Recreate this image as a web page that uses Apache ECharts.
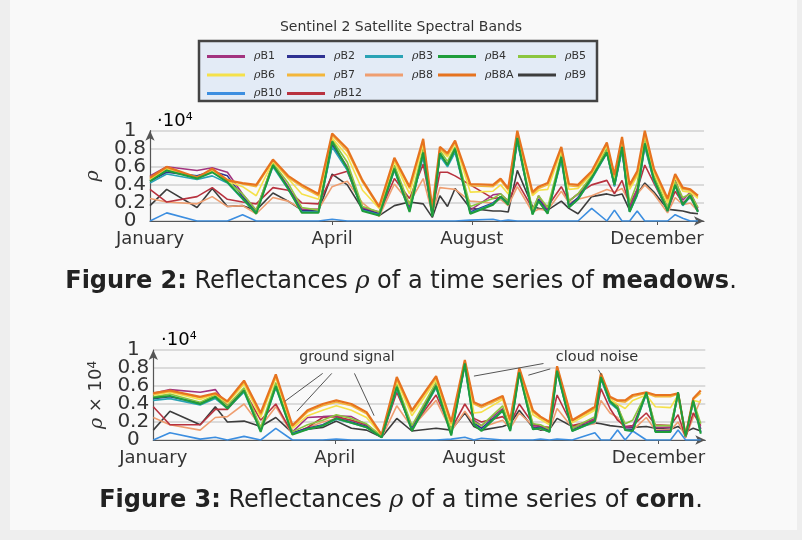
<!DOCTYPE html>
<html>
<head>
<meta charset="utf-8">
<script src="https://cdn.jsdelivr.net/npm/echarts@6/dist/echarts.min.js"></script>
<style>html,body{margin:0;padding:0;background:#eeeeee;}#c{width:802px;height:540px;}</style>
</head>
<body>
<div id="c"></div>
<script>
// ---------- tick labels ----------
const xTickDays = [0, 120, 212, 334];
const xTickNames = ['January', 'April', 'August', 'December'];
const yTicksA = [0, 0.4, 0.8];
const yTicksB = [0.2, 0.6, 1];
const bandNames = ['B1','B2','B3','B4','B5','B6','B7','B8','B8A','B9','B10','B12'];

// ---------- meadows (Figure 2), values ×10^4 ----------
const meadowDays = [0,11,31,41,51,61,70,81,91,100,111,120,130,140,151,161,171,180,186,191,196,201,211,226,231,236,242,252,256,262,271,276,282,291,301,306,311,316,321,326,332,341,346,351,356,361];
const meadowB8A = [.48,.60,.48,.58,.45,.42,.40,.68,.50,.40,.30,.97,.80,.45,.16,.70,.38,.91,.14,.82,.75,.89,.41,.40,.47,.36,1.0,.32,.38,.42,.82,.41,.40,.55,.87,.51,.93,.40,.55,1.0,.58,.25,.52,.37,.35,.28];
const meadowB7  = [.47,.59,.47,.57,.46,.41,.38,.67,.48,.38,.28,.95,.77,.43,.15,.68,.36,.89,.12,.80,.73,.87,.39,.38,.45,.34,.98,.30,.36,.40,.80,.39,.38,.53,.85,.49,.91,.38,.52,.98,.56,.23,.50,.35,.34,.27];
const meadowB6  = [.46,.58,.48,.56,.44,.38,.28,.66,.47,.30,.24,.92,.72,.34,.14,.66,.30,.86,.10,.80,.71,.86,.32,.33,.40,.30,.96,.28,.34,.35,.78,.35,.36,.52,.84,.48,.90,.35,.50,.96,.54,.20,.48,.33,.32,.25];
const meadowB5  = [.45,.57,.49,.55,.44,.30,.12,.64,.42,.15,.12,.90,.65,.16,.10,.62,.18,.80,.07,.78,.66,.82,.16,.25,.30,.22,.94,.12,.28,.15,.74,.22,.30,.50,.80,.45,.86,.20,.42,.92,.50,.15,.44,.26,.30,.15];
const meadowB4  = [.44,.56,.47,.54,.43,.25,.08,.62,.36,.09,.09,.88,.58,.11,.06,.58,.10,.76,.05,.75,.62,.80,.08,.18,.27,.18,.92,.07,.22,.08,.71,.15,.24,.48,.76,.40,.82,.10,.30,.86,.46,.11,.40,.18,.28,.10];
const meadowB3  = [.42,.52,.46,.50,.42,.24,.09,.60,.35,.10,.10,.82,.56,.12,.07,.56,.11,.72,.06,.72,.60,.76,.09,.19,.26,.19,.88,.08,.22,.09,.67,.15,.24,.46,.75,.38,.78,.10,.28,.82,.44,.11,.39,.17,.27,.10];
const meadowB2  = [.44,.54,.50,.55,.50,.27,.10,.62,.37,.11,.11,.84,.57,.13,.08,.57,.12,.74,.07,.73,.62,.78,.10,.20,.27,.20,.90,.09,.24,.10,.69,.17,.26,.47,.76,.39,.80,.11,.30,.84,.45,.12,.40,.18,.29,.11];
const meadowB1  = [.50,.60,.56,.59,.54,.30,.12,.64,.38,.13,.13,.86,.60,.15,.10,.58,.15,.74,.08,.74,.63,.78,.12,.29,.30,.22,.90,.10,.28,.12,.70,.22,.30,.48,.78,.42,.80,.15,.35,.85,.48,.15,.46,.23,.32,.14];
const meadowB12 = [.35,.21,.27,.37,.24,.21,.19,.37,.34,.20,.19,.50,.55,.14,.08,.47,.25,.63,.10,.54,.54,.50,.40,.25,.26,.22,.43,.14,.23,.16,.38,.22,.30,.40,.45,.30,.45,.18,.35,.62,.42,.12,.33,.20,.26,.12];
const meadowB8  = [.25,.21,.19,.27,.16,.17,.08,.26,.22,.13,.13,.38,.44,.20,.05,.41,.20,.47,.08,.37,.36,.35,.22,.20,.24,.17,.38,.10,.13,.12,.33,.20,.24,.28,.35,.32,.36,.20,.30,.40,.30,.09,.26,.18,.20,.11];
const meadowB9  = [.17,.35,.15,.36,.16,.17,.12,.31,.22,.12,.11,.52,.40,.13,.06,.17,.21,.19,.04,.28,.16,.36,.14,.11,.11,.10,.56,.16,.14,.12,.22,.14,.08,.27,.30,.28,.30,.12,.30,.42,.32,.13,.12,.11,.09,.08];
const meadowB10 = [0,.09,0,0,0,.07,0,0,0,0,0,.02,0,0,0,0,0,0,0,0,0,0,.01,.02,0,.01,0,0,0,0,0,0,0,.14,0,.12,0,0,.11,0,0,0,.07,.03,0,0];

// ---------- corn (Figure 3), values ×10^4 ----------
const cornDays = [0,11,31,41,49,60,71,81,92,102,112,121,131,141,151,161,171,187,197,206,212,217,231,236,242,251,256,262,267,277,292,296,302,307,312,317,326,332,342,347,352,357,362];
const cornB8A = [.52,.55,.48,.52,.43,.66,.30,.73,.16,.33,.40,.44,.40,.31,.06,.70,.33,.71,.20,.89,.42,.38,.49,.22,.80,.33,.26,.20,.82,.22,.37,.74,.48,.44,.44,.50,.53,.50,.50,.52,.05,.46,.55];
const cornB7  = [.51,.54,.47,.51,.42,.64,.28,.71,.15,.31,.38,.42,.38,.29,.05,.68,.31,.69,.18,.88,.40,.36,.47,.21,.79,.31,.25,.19,.81,.21,.35,.73,.47,.43,.42,.48,.52,.48,.48,.51,.05,.45,.52];
const cornB6  = [.50,.53,.45,.51,.41,.62,.25,.69,.13,.27,.33,.38,.33,.25,.05,.66,.27,.67,.16,.87,.30,.31,.45,.19,.78,.28,.23,.17,.80,.19,.33,.72,.45,.40,.35,.44,.50,.37,.36,.50,.04,.44,.42];
const cornB5  = [.48,.51,.42,.50,.38,.58,.14,.64,.09,.17,.22,.28,.24,.18,.04,.62,.16,.64,.10,.86,.20,.16,.38,.13,.76,.18,.17,.12,.79,.13,.26,.71,.44,.37,.18,.22,.52,.16,.16,.52,.04,.44,.18];
const cornB4  = [.47,.49,.40,.48,.35,.55,.09,.60,.06,.12,.16,.24,.19,.14,.03,.59,.10,.60,.05,.85,.17,.10,.33,.10,.75,.12,.13,.09,.77,.10,.21,.70,.43,.35,.11,.10,.53,.09,.09,.53,.04,.44,.07];
const cornB3  = [.44,.46,.39,.46,.35,.53,.10,.58,.07,.12,.16,.23,.19,.14,.03,.57,.11,.58,.06,.82,.17,.11,.32,.10,.74,.12,.13,.09,.75,.10,.20,.68,.41,.34,.11,.10,.51,.09,.09,.51,.04,.42,.08];
const cornB2  = [.46,.48,.41,.48,.37,.55,.11,.60,.08,.13,.17,.24,.20,.15,.03,.58,.12,.59,.07,.84,.19,.13,.33,.11,.76,.13,.14,.10,.77,.11,.21,.69,.42,.35,.12,.12,.52,.10,.10,.52,.04,.43,.09];
const cornB1  = [.52,.56,.53,.56,.38,.56,.12,.60,.09,.25,.26,.27,.26,.17,.04,.59,.14,.62,.08,.84,.22,.16,.35,.13,.79,.16,.15,.11,.79,.13,.24,.70,.45,.38,.14,.15,.53,.14,.14,.53,.05,.44,.12];
const cornB12 = [.37,.17,.17,.34,.34,.55,.22,.40,.07,.14,.25,.26,.22,.17,.03,.53,.14,.50,.12,.40,.24,.20,.26,.18,.40,.18,.15,.14,.50,.16,.22,.57,.35,.22,.15,.16,.30,.17,.16,.28,.03,.30,.16];
const cornB8  = [.25,.17,.11,.25,.26,.40,.15,.37,.06,.14,.20,.24,.22,.16,.03,.38,.14,.44,.10,.32,.18,.14,.22,.13,.30,.16,.12,.11,.35,.14,.18,.44,.30,.25,.12,.11,.25,.11,.11,.20,.03,.25,.45];
const cornB9  = [.11,.32,.17,.37,.20,.21,.15,.25,.08,.12,.14,.21,.13,.11,.03,.24,.10,.13,.11,.30,.15,.11,.15,.18,.33,.14,.11,.12,.24,.15,.19,.18,.16,.15,.14,.14,.15,.13,.12,.15,.09,.13,.10];
const cornB10 = [0,.08,.01,.03,0,.04,0,.13,0,0,0,.01,0,0,0,0,0,0,.01,.03,0,.02,0,0,0,0,.01,0,.01,0,.08,0,0,.11,0,.10,0,0,0,.11,0,0,0];

// annotation anchor points (day, value) in the corn chart
const groundSignalLines = [[[87,0.43],[112,0.74]], [[95,0.32],[118,0.74]], [[146,0.27],[133,0.74]]];
const cloudNoiseLines = [[[212,0.71],[258,0.85]], [[248,0.72],[262.5,0.79]], [[296.4,0.72],[294.3,0.78]]];

// ---------- build ----------
const bandColors = {B1:'#a2337f',B2:'#2e3192',B3:'#2aa3b5',B4:'#1f9d3b',B5:'#8cc63f',B6:'#f5e14a',B7:'#f3b63a',B8:'#ef9e70',B8A:'#e6731f',B9:'#3d3d3d',B10:'#3c8ee0',B12:'#b8323f'};
const bandWidths = {B4: 2, B8A: 2.2};
const meadowData = {B1:meadowB1,B2:meadowB2,B3:meadowB3,B4:meadowB4,B5:meadowB5,B6:meadowB6,B7:meadowB7,B8:meadowB8,B8A:meadowB8A,B9:meadowB9,B10:meadowB10,B12:meadowB12};
const cornData = {B1:cornB1,B2:cornB2,B3:cornB3,B4:cornB4,B5:cornB5,B6:cornB6,B7:cornB7,B8:cornB8,B8A:cornB8A,B9:cornB9,B10:cornB10,B12:cornB12};
const drawOrder = ['B10','B9','B8','B12','B1','B2','B3','B5','B6','B7','B8A','B4'];

const FONT = 'DejaVu Sans';
const series = [];
[[meadowDays, meadowData, 0], [cornDays, cornData, 1]].forEach(([days, data, gi]) => {
  drawOrder.forEach(b => {
    series.push({
      type: 'line', name: b, xAxisIndex: gi, yAxisIndex: gi,
      color: bandColors[b], symbol: 'none', silent: true,
      lineStyle: {width: bandWidths[b] || 1.6, color: bandColors[b]},
      data: days.map((d, i) => [d, data[b][i]])
    });
  });
});
const annot = {color: '#555', width: 1, type: 'solid'};
series.push({
  type: 'line', name: 'annotations', xAxisIndex: 1, yAxisIndex: 1, data: [], symbol: 'none',
  markLine: {silent: true, symbol: 'none', animation: false, label: {show: false}, lineStyle: annot,
    data: groundSignalLines.concat(cloudNoiseLines).map(l => [{coord: l[0]}, {coord: l[1]}])}
});

function xAxis(gi) {
  return {
    type: 'value', gridIndex: gi, min: 0, max: 365,
    axisLine: {show: true, onZero: false, symbol: ['none', 'arrow'], symbolSize: [7, 10], lineStyle: {color: '#555', width: 1.2}},
    axisTick: {show: true, customValues: xTickDays.slice(1), length: 4, lineStyle: {color: '#555'}},
    axisLabel: {customValues: xTickDays, formatter: v => { const k = xTickDays.indexOf(v); return k >= 0 ? xTickNames[k] : ''; },
      fontFamily: FONT, fontSize: 18, color: '#333', margin: 9, showMinLabel: true, showMaxLabel: true},
    splitLine: {show: false}
  };
}
const yLabelStyle = {fontFamily: FONT, fontSize: 20, color: '#333', align: 'center', margin: 20,
  showMinLabel: true, showMaxLabel: true, hideOverlap: false};
function yAxis(gi, name) {
  return {
    type: 'value', gridIndex: gi, min: 0, max: 1, interval: 0.2,
    axisLine: {show: true, symbol: ['none', 'arrow'], symbolSize: [7, 10], lineStyle: {color: '#555', width: 1.2}},
    axisTick: {show: false},
    axisLabel: Object.assign({customValues: yTicksA}, yLabelStyle),
    splitLine: {show: true, lineStyle: {color: '#d0d0d0', width: 1.5}},
    name: name, nameLocation: 'middle', nameGap: 47, nameRotate: 90,
    nameTextStyle: {fontFamily: FONT, fontSize: 18, color: '#333',
      rich: {i: {fontFamily: 'DejaVu Serif', fontStyle: 'italic', fontSize: 19, color: '#333'},
             s: {fontFamily: FONT, fontSize: 12, color: '#333', verticalAlign: 'top'}}}
  };
}
function yAxisExtra(gi) {
  return {
    type: 'value', gridIndex: gi, min: 0, max: 1, interval: 0.2, position: 'left', offset: 0,
    axisLine: {show: false}, axisTick: {show: false}, splitLine: {show: false},
    axisLabel: Object.assign({customValues: yTicksB}, yLabelStyle)
  };
}

const legendCols = [['B1','B6','B10'], ['B2','B7','B12'], ['B3','B8'], ['B4','B8A'], ['B5','B9']];
const legendLeft = [207, 287, 365, 438, 518];
const legends = legendCols.map((cols, k) => ({
  data: cols, orient: 'vertical', left: legendLeft[k], top: 47, padding: 0,
  itemGap: 3.5, itemWidth: 38, itemHeight: 3, icon: 'rect', selectedMode: false,
  formatter: n => '{r|ρ}{s|' + n + '}',
  textStyle: {color: '#333', rich: {
    r: {fontFamily: 'DejaVu Serif', fontStyle: 'italic', fontSize: 11, lineHeight: 11, verticalAlign: 'top', padding: [0, 0, 0, 4], color: '#333'},
    s: {fontFamily: FONT, fontSize: 11, lineHeight: 11, padding: [4, 0, 0, 0], verticalAlign: 'bottom', color: '#333'}}}
}));

const capRich = {b: {fontFamily: FONT, fontWeight: 'bold', fontSize: 24, color: '#222'},
                 i: {fontFamily: 'DejaVu Serif', fontStyle: 'italic', fontSize: 24, color: '#222'}};
const supRich = {a: {fontFamily: FONT, fontSize: 18, color: '#333', verticalAlign: 'bottom'},
                 b: {fontFamily: FONT, fontSize: 11, color: '#333', verticalAlign: 'top'}};

const option = {
  animation: false,
  backgroundColor: '#eeeeee',
  title: [
    {text: 'Sentinel 2 Satellite Spectral Bands', left: 'center', top: 20, padding: 0,
     textStyle: {fontFamily: FONT, fontSize: 14, fontWeight: 'normal', color: '#333'}},
    {text: '{b|Figure 2:} Reflectances {i|ρ} of a time series of {b|meadows}.', left: 'center', top: 270, padding: 0,
     textStyle: {fontFamily: FONT, fontSize: 24, fontWeight: 'normal', color: '#222', rich: capRich}},
    {text: '{b|Figure 3:} Reflectances {i|ρ} of a time series of {b|corn}.', left: 'center', top: 489, padding: 0,
     textStyle: {fontFamily: FONT, fontSize: 24, fontWeight: 'normal', color: '#222', rich: capRich}}
  ],
  legend: legends,
  grid: [
    {left: 150, top: 130.7, width: 554, height: 90.3},
    {left: 153.3, top: 350, width: 552, height: 90}
  ],
  xAxis: [xAxis(0), xAxis(1)],
  yAxis: [yAxis(0, '{i|ρ}'), yAxis(1, '{i|ρ} × 10{s|4}'), yAxisExtra(0), yAxisExtra(1)],
  graphic: [
    {type: 'rect', z: -10, silent: true, shape: {x: 10, y: 0, width: 787, height: 530}, style: {fill: '#f9f9f9'}},
    {type: 'rect', z: 1, silent: true, shape: {x: 199, y: 41, width: 398, height: 60}, style: {fill: '#e3ebf6', stroke: '#444', lineWidth: 2.5}},
    {type: 'text', z: 5, silent: true, style: {text: '{a|·10}{b|4}', rich: supRich, x: 157, y: 121, verticalAlign: 'middle'}},
    {type: 'text', z: 5, silent: true, style: {text: '{a|·10}{b|4}', rich: supRich, x: 161, y: 340, verticalAlign: 'middle'}},
    {type: 'text', z: 5, silent: true, style: {text: 'ground signal', x: 347, y: 357, align: 'center', verticalAlign: 'middle', fontFamily: FONT, fontSize: 14, fill: '#333'}},
    {type: 'text', z: 5, silent: true, style: {text: 'cloud noise', x: 597, y: 357, align: 'center', verticalAlign: 'middle', fontFamily: FONT, fontSize: 14.5, fill: '#333'}}
  ],
  series: series
};

const chart = echarts.init(document.getElementById('c'), null, {renderer: 'canvas'});
chart.setOption(option);
</script>
</body>
</html>
